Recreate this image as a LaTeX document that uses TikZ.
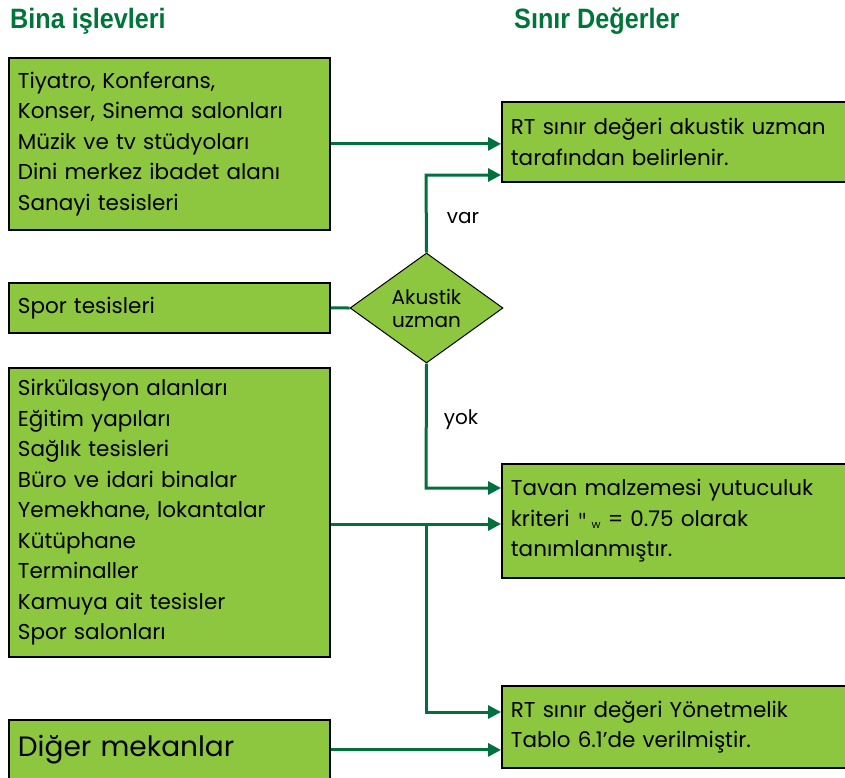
\documentclass[tikz,border=0pt]{standalone}
\usepackage{fontspec}
\setmainfont{Poppins}
\newfontfamily\titlefont[FakeStretch=0.9]{Liberation Sans}
\usetikzlibrary{shapes.geometric,arrows.meta,calc}
\definecolor{boxgreen}{HTML}{8DC63F}
\definecolor{linegreen}{HTML}{00703C}
\definecolor{titlegreen}{HTML}{00753A}
\begin{document}
\begin{tikzpicture}[x=1pt,y=-1pt,
 box/.style={draw=black,line width=1.8pt,fill=boxgreen,anchor=north west,align=left,
   inner xsep=9pt,inner ysep=0pt,font=\fontsize{21.5}{30.5}\selectfont,text=black},
 lbox/.style={box,text width=303pt},
 rbox/.style={box,text width=326pt},
 arr/.style={draw=linegreen,line width=3pt,-{Triangle[length=13pt,width=13pt]}},
 ln/.style={draw=linegreen,line width=3pt},
 lbl/.style={font=\fontsize{20}{24}\selectfont,text=black},
 ttl/.style={font=\titlefont\bfseries\fontsize{28}{30}\selectfont,text=titlegreen,anchor=base west,inner sep=0pt}
]
\useasboundingbox (0,0) rectangle (845,777);

% titles
\node[ttl] (t1) at (10,28) {Bina işlevleri};
\node[ttl] (t2) at (514,28) {Sınır Değerler};

% left boxes
\node[lbox,minimum height=172pt] (b1) at (8,57)
 {Tiyatro, Konferans,\\Konser, Sinema salonları\\Müzik ve tv stüdyoları\\Dini merkez ibadet alanı\\Sanayi tesisleri};
\node[lbox,minimum height=50pt] (sp) at (8,282) {Spor tesisleri};
\node[lbox,minimum height=289pt] (b3) at (8,367)
 {Sirkülasyon alanları\\Eğitim yapıları\\Sağlık tesisleri\\Büro ve idari binalar\\Yemekhane, lokantalar\\Kütüphane\\Terminaller\\Kamuya ait tesisler\\Spor salonları};
\node[lbox,minimum height=60pt,font=\fontsize{28}{32}\selectfont] (dg) at (8,719) {Diğer mekanlar};

% diamond
\node[diamond,draw=black,line width=1pt,fill=boxgreen,minimum width=153pt,minimum height=110pt,
  inner sep=0pt,align=center,font=\fontsize{20}{23}\selectfont] (dia) at (426.5,308) {Akustik\\uzman};

% right boxes
\node[rbox,minimum height=80pt] (rt) at (501,101)
 {RT sınır değeri akustik uzman\\tarafından belirlenir.};
\node[rbox,minimum height=114pt] (tv) at (501,463)
 {Tavan malzemesi yutuculuk\\kriteri {\ttfamily "}\,\raisebox{-2pt}{\fontsize{11}{11}\selectfont w} = 0.75 olarak\\tanımlanmıştır.};
\node[rbox,minimum height=82pt] (ry) at (501,685)
 {RT sınır değeri Yönetmelik\\Tablo 6.1’de verilmiştir.};

% junction coordinates
\coordinate (cv) at (426,175);
\coordinate (cy) at (426,488);
\coordinate (cj) at (426,524);
\coordinate (cr) at (426,712);

% connectors
\draw[arr] (b1.east) -- (rt.west |- b1.east);
\draw[arr] (dia.north) -- (cv) -- (rt.west |- cv);
\draw[ln] (sp.east) -- (dia.west);
\draw[arr] (dia.south) -- (cy) -- (tv.west |- cy);
\draw[arr] (b3.east |- cj) -- (tv.west |- cj);
\draw[arr] (cj) -- (cr) -- (ry.west |- cr);
\draw[arr] (dg.east) -- (ry.west |- dg.east);

% labels
\node[lbl] (lvar) at (463,218) {var};
\node[lbl] (lyok) at (461,420) {yok};
\end{tikzpicture}
\end{document}
